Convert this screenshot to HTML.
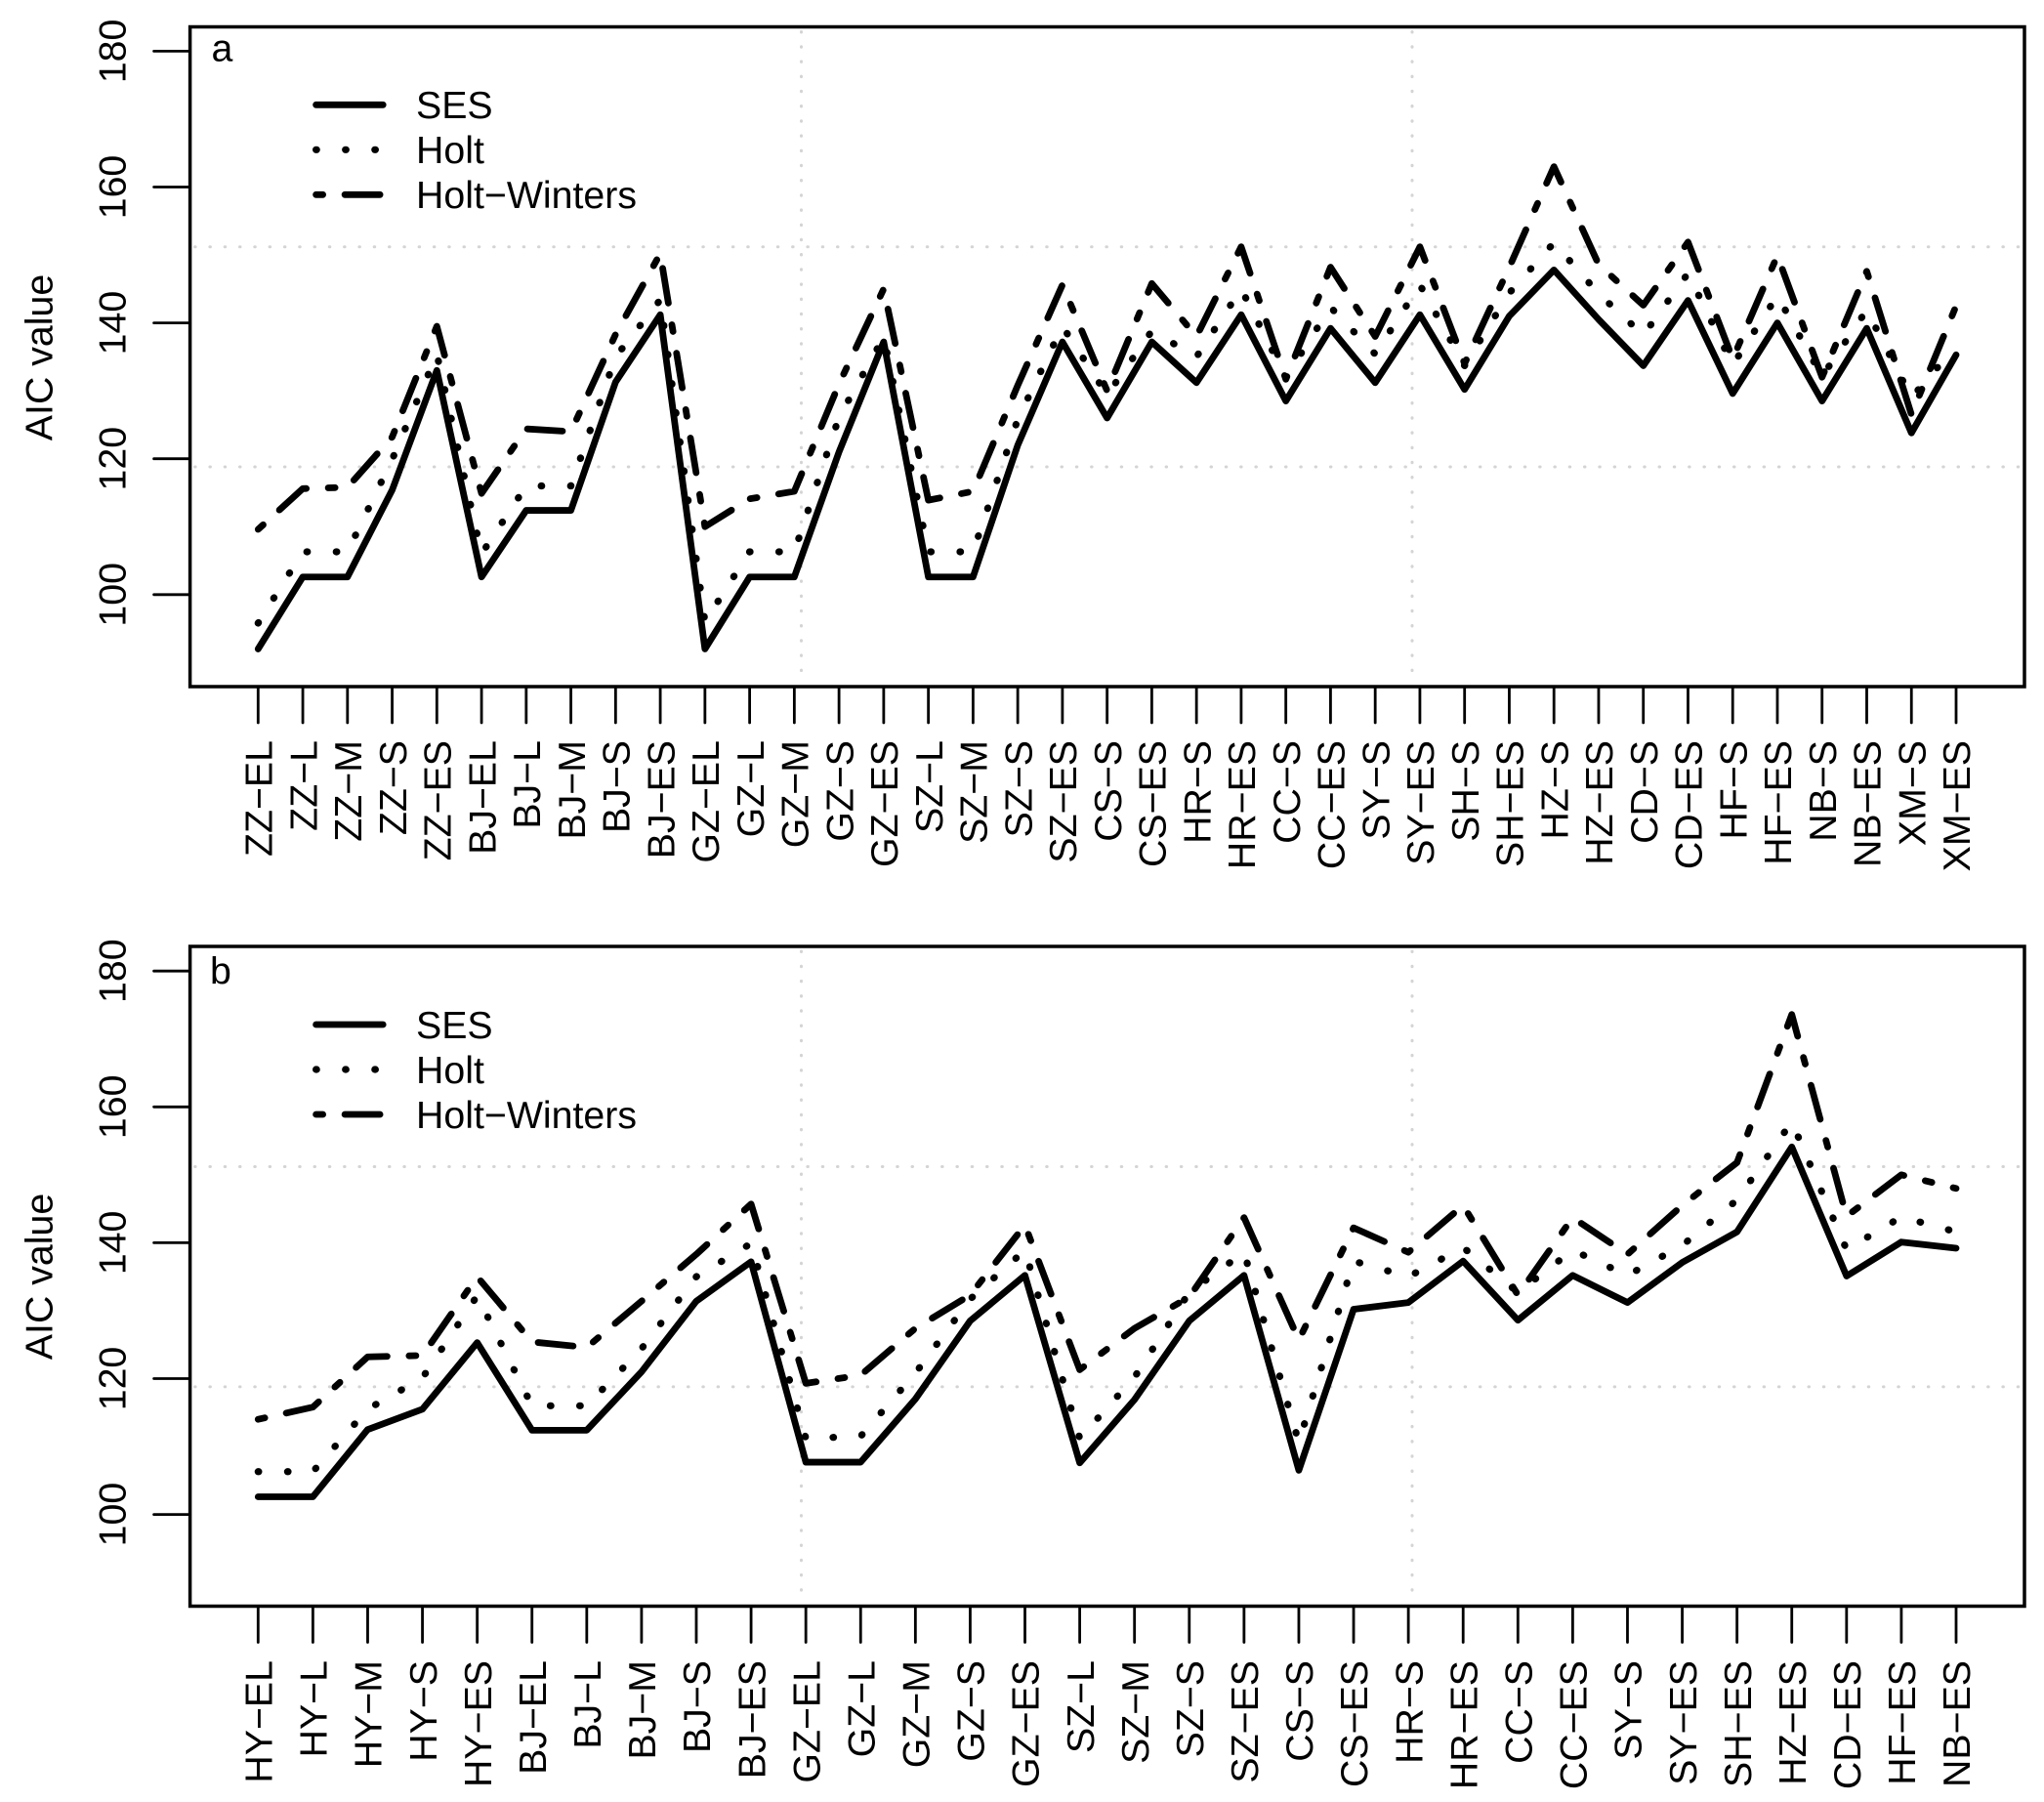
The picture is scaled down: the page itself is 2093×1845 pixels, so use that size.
<!DOCTYPE html>
<html lang="en">
<head>
<meta charset="utf-8">
<title>AIC value by model and city</title>
<style>
html,body{margin:0;padding:0;background:#fff;}
svg{display:block;}
text{font-family:"Liberation Sans",Arial,sans-serif;fill:#000;}
</style>
</head>
<body>
<svg id="chart" xmlns="http://www.w3.org/2000/svg" width="2093" height="1845" viewBox="0 0 2093 1845">
<rect x="0" y="0" width="2093" height="1845" fill="#fff"></rect>
</svg>
<script>
const yTicks = [100, 120, 140, 160, 180];
const gridValues = [118.8, 151.2];
const seriesNames = ['SES', 'Holt', 'Holt\u2212Winters'];

const categoriesA = ['ZZ-EL','ZZ-L','ZZ-M','ZZ-S','ZZ-ES','BJ-EL','BJ-L','BJ-M','BJ-S','BJ-ES','GZ-EL','GZ-L','GZ-M','GZ-S','GZ-ES','SZ-L','SZ-M','SZ-S','SZ-ES','CS-S','CS-ES','HR-S','HR-ES','CC-S','CC-ES','SY-S','SY-ES','SH-S','SH-ES','HZ-S','HZ-ES','CD-S','CD-ES','HF-S','HF-ES','NB-S','NB-ES','XM-S','XM-ES'];
const sesA = [92,102.6,102.6,115.4,133,102.6,112.4,112.4,131.3,141.2,92,102.6,102.6,121,137.2,102.6,102.6,122,137.2,126,137.2,131.2,141.2,128.5,139.2,131.2,141.2,130.2,141,147.8,140.5,133.7,143.3,129.6,140,128.5,139.2,123.8,135.3];
const holtA = [95.8,106.3,106.3,119.9,135.4,106,116,116,135,143.4,96,106.3,106.3,126.1,137.9,106.3,106.3,125.8,139.5,129.4,138.8,135,145,132,142.3,135.4,145.6,133.7,144.4,151.8,144.3,138.2,147.3,133.8,144,132.1,141.9,129,136.6];
const winA = [109.6,115.6,115.8,123.2,139.5,114.9,124.4,124,138.3,150.2,110,114.1,115.2,131,145,113.9,115.2,130.8,145.6,130,145.8,138,151.2,131.7,148.2,138,151.2,134,148.2,163,148.6,142.6,151.9,134.7,149.9,132,147.6,126.5,142.5];

const categoriesB = ['HY-EL','HY-L','HY-M','HY-S','HY-ES','BJ-EL','BJ-L','BJ-M','BJ-S','BJ-ES','GZ-EL','GZ-L','GZ-M','GZ-S','GZ-ES','SZ-L','SZ-M','SZ-S','SZ-ES','CS-S','CS-ES','HR-S','HR-ES','CC-S','CC-ES','SY-S','SY-ES','SH-ES','HZ-ES','CD-ES','HF-ES','NB-ES'];
const sesB = [102.6,102.6,112.5,115.5,125.3,112.4,112.4,121,131.4,137.2,107.7,107.7,117,128.5,135.2,107.6,116.9,128.5,135.2,106.5,130.2,131.2,137.3,128.6,135.2,131.2,137.1,141.6,154.1,135.1,140.1,139.2];
const holtB = [106.3,106.3,115.5,120.1,132.2,116,116,124.4,135,139.9,111.2,111.5,120.8,131.7,138.9,111.2,120.2,132.7,138.6,110.6,137.3,135,139.3,132.7,138.9,135.2,139.6,146.3,157.8,139,143.8,141.6];
const winB = [114,115.8,123.2,123.4,135,125.4,124.6,131.4,138.3,145.7,119.3,120.5,127.4,132.3,142.6,121.3,127.4,132,143.7,125.7,142.2,138.6,145.5,132.3,143.7,138.3,145.5,151.8,173.6,143.9,150,148];

const svg = document.getElementById('chart');
const NS = 'http://www.w3.org/2000/svg';
const FONT = 39.3;
const DASHES = ['none', '0.6 29.5', '7 22.5 36 22.5'];
const WIDTHS = [6.8, 7.2, 6.8];
const SLUGS = ['ses', 'holt', 'holt-winters'];

function node(tag, parent) {
  const el = document.createElementNS(NS, tag);
  parent.appendChild(el);
  return el;
}
function setAll(el, attrs) {
  Object.keys(attrs).forEach(function (k) { el.setAttribute(k, attrs[k]); });
  return el;
}

function drawPanel(p, cats, seriesList) {
  const g = node('g', svg);
  
  

  const xPos = function (i) { return p.x0 + i * (p.x1 - p.x0) / (cats.length - 1); };
  const yPos = function (v) { return p.y100 - (v - 100) * p.pxPerUnit; };

  // grid
  gridValues.forEach(function (v) {
    const l = setAll(node('line', g), {x1: p.left + 5, x2: p.right - 2, y1: yPos(v), y2: yPos(v), stroke: '#d4d4d4', 'stroke-width': 3, 'stroke-linecap': 'round', 'stroke-dasharray': '0.5 14.8'});
    
    
  });
  p.gridX.forEach(function (gx) {
    const l = setAll(node('line', g), {x1: gx, x2: gx, y1: p.top + 5, y2: p.bottom - 4, stroke: '#d4d4d4', 'stroke-width': 3, 'stroke-linecap': 'round', 'stroke-dasharray': '0.5 14.7'});
    
    
  });

  // series
  seriesList.forEach(function (vals, s) {
    const pts = vals.map(function (v, i) { return xPos(i).toFixed(2) + ',' + yPos(v).toFixed(2); }).join(' ');
    const line = setAll(node('polyline', g), {points: pts, fill: 'none', stroke: '#000', 'stroke-width': WIDTHS[s], 'stroke-linecap': 'round', 'stroke-linejoin': 'round'});
    if (DASHES[s] !== 'none') line.setAttribute('stroke-dasharray', DASHES[s]);
    
    
  });

  // frame
  const frame = setAll(node('rect', g), {x: p.left, y: p.top, width: p.right - p.left, height: p.bottom - p.top, fill: 'none', stroke: '#000', 'stroke-width': 3.5});
  
  

  // y axis
  yTicks.forEach(function (v) {
    const y = yPos(v);
    const t = setAll(node('line', g), {x1: p.left - 37, x2: p.left, y1: y, y2: y, stroke: '#000', 'stroke-width': 2.8, 'stroke-linecap': 'round'});
    
    
    const lab = setAll(node('text', g), {transform: 'translate(128.5,' + y + ') rotate(-90)', 'text-anchor': 'middle', 'font-size': FONT});
    lab.textContent = String(v);
    
    
  });
  const yTitle = setAll(node('text', g), {transform: 'translate(53.5,' + p.titleY + ') rotate(-90)', 'text-anchor': 'middle', 'font-size': FONT});
  yTitle.textContent = 'AIC value';
  
  

  // x axis
  cats.forEach(function (c, i) {
    const x = xPos(i);
    const t = setAll(node('line', g), {x1: x, x2: x, y1: p.bottom, y2: p.bottom + 37, stroke: '#000', 'stroke-width': 2.8, 'stroke-linecap': 'round'});
    
    
    const lab = setAll(node('text', g), {transform: 'translate(' + (x + 14.2).toFixed(2) + ',' + p.labelTop + ') rotate(-90)', 'text-anchor': 'end', 'font-size': FONT});
    lab.textContent = c.replace('-', '\u2212');
    
    
  });

  // panel letter
  const letter = setAll(node('text', g), {x: p.letterX, y: p.letterY, 'font-size': FONT});
  letter.textContent = p.tag;
  
  

  // legend
  const legend = node('g', g);
  
  
  seriesNames.forEach(function (name, s) {
    const ly = p.legendY + s * 46;
    const sw = setAll(node('line', legend), {x1: 323.6, x2: 392.2, y1: ly, y2: ly, stroke: '#000', 'stroke-width': WIDTHS[s], 'stroke-linecap': 'round'});
    if (DASHES[s] !== 'none') sw.setAttribute('stroke-dasharray', DASHES[s]);
    
    
    const tx = setAll(node('text', legend), {x: 426, y: ly + 13.8, 'font-size': FONT});
    tx.textContent = name;
    
    
  });
}

drawPanel({tag: 'a', left: 194.6, right: 2073, top: 27.5, bottom: 703, x0: 264.3, x1: 2003, y100: 608.8, pxPerUnit: 6.955, gridX: [820.5, 1446], titleY: 366, labelTop: 758, letterX: 216.5, letterY: 62.3, legendY: 107.3}, categoriesA, [sesA, holtA, winA]);
drawPanel({tag: 'b', left: 194.6, right: 2073, top: 969, bottom: 1644.5, x0: 264.3, x1: 2003, y100: 1550.6, pxPerUnit: 6.955, gridX: [820.5, 1446], titleY: 1307, labelTop: 1700, letterX: 215, letterY: 1007.5, legendY: 1049}, categoriesB, [sesB, holtB, winB]);
</script>
</body>
</html>
